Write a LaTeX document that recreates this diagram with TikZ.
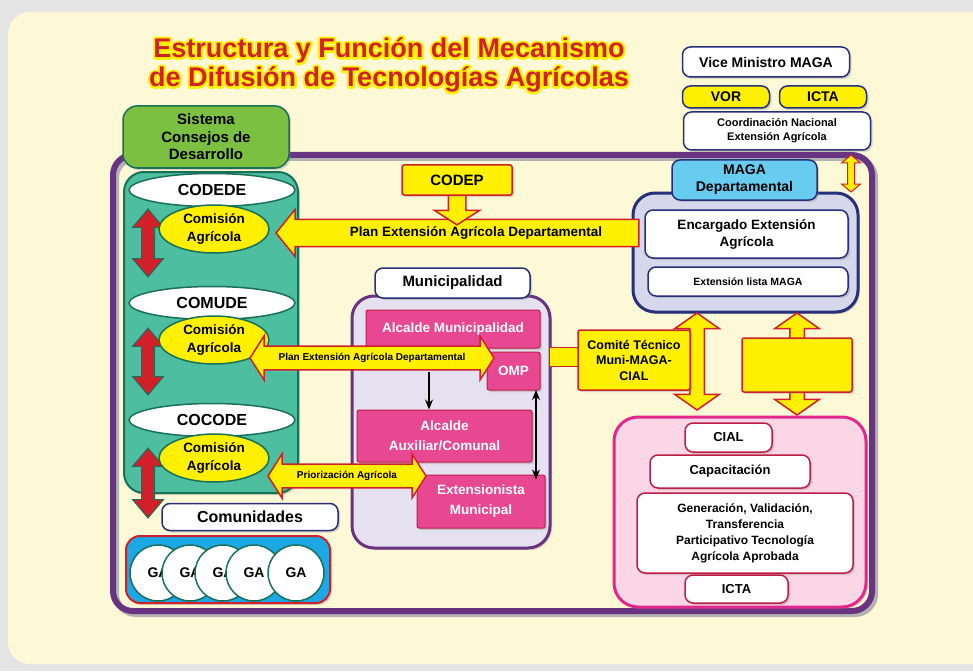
\documentclass[tikz,border=0pt]{standalone}
\usepackage{fontspec}
\setmainfont{Liberation Sans}
\usepackage{tikz}
\usetikzlibrary{arrows.meta,shapes.geometric,shapes.arrows,shadows}

\definecolor{cream}{RGB}{253,248,214}
\definecolor{edge}{RGB}{228,228,228}
\definecolor{frame}{RGB}{104,52,130}
\definecolor{tealbg}{RGB}{78,190,160}
\definecolor{tealdk}{RGB}{24,112,90}
\definecolor{leaf}{RGB}{124,192,66}
\definecolor{ayel}{RGB}{255,240,0}
\definecolor{ared}{RGB}{210,32,42}
\definecolor{pinkbox}{RGB}{232,72,146}
\definecolor{pinkdk}{RGB}{190,30,70}
\definecolor{lav}{RGB}{230,225,240}
\definecolor{mauve}{RGB}{215,215,236}
\definecolor{navy}{RGB}{38,48,122}
\definecolor{sky}{RGB}{104,204,240}
\definecolor{rose}{RGB}{250,214,230}
\definecolor{magen}{RGB}{226,40,140}
\definecolor{gablue}{RGB}{28,168,228}

\newcommand\sz[2]{\bfseries\fontsize{#1}{#2}\selectfont}
\newcommand\outline{\special{pdf:literal direct 2 Tr 4.5 w 1 j}}

\tikzset{
  shd/.style={drop shadow={opacity=.3,shadow xshift=2pt,shadow yshift=-2pt}},
  wbox/.style={draw=navy, line width=1.5pt, fill=white, rounded corners=8pt, align=center, inner sep=1pt, shd},
  ybox/.style={wbox, fill=ayel},
  rwbox/.style={wbox, draw=pinkdk},
  sqbox/.style={draw=ared, line width=1.5pt, fill=ayel, rounded corners=2pt, align=center, inner sep=1pt, shd},
  pbox/.style={draw=pinkdk, line width=1pt, fill=pinkbox, text=white, rounded corners=2pt, align=center, inner sep=1pt, font=\sz{13.5}{20}, shd},
  oval/.style={ellipse, draw=tealdk, line width=1.5pt, fill=white, inner sep=0pt, font=\sz{16}{16}},
  yoval/.style={oval, fill=ayel, align=center, font=\sz{13.5}{18}},
  ga/.style={circle, draw=tealdk, line width=1.5pt, fill=white, minimum size=56pt, inner sep=0pt, font=\sz{14}{14}},
  panel/.style={rounded corners=20pt, line width=3pt, shd},
  yarr/.style={draw=ared, fill=ayel, line width=1.5pt},
  rarr/.style={double arrow, draw=tealdk, fill=ared, line width=1pt, shape border rotate=90,
    double arrow head extend=9pt, double arrow tip angle=80, inner sep=6pt}
}

\begin{document}
\begin{tikzpicture}[x=1pt, y=-1pt]
  % background
  \useasboundingbox (0,0) rectangle (973,671);
  \fill[edge] (0,0) rectangle (973,671);
  \fill[cream, rounded corners=22pt] (8,12) rectangle (995,664);

  % title
  \node[text=ayel, align=center, font=\sz{27}{29}] (titlebg) at (389,65) {\outline Estructura y Función del Mecanismo\\de Difusión de Tecnologías Agrícolas};
  \node[text=ared, align=center, font=\sz{27}{29}] (title) at (389,65) {Estructura y Función del Mecanismo\\de Difusión de Tecnologías Agrícolas};

  % national level
  \node[wbox, minimum width=167pt, minimum height=30pt, font=\sz{14}{16}] (vice) at (766,62) {Vice Ministro MAGA};
  \node[ybox, minimum width=87pt, minimum height=22pt, font=\sz{14}{16}] (vor) at (726,97) {VOR};
  \node[ybox, minimum width=87pt, minimum height=22pt, font=\sz{14}{16}] (icta) at (823,97) {ICTA};
  \node[wbox, minimum width=187pt, minimum height=38pt, font=\sz{11}{14}] (coord) at (777,131) {Coordinación Nacional\\Extensión Agrícola};

  % main frame
  \draw[black!30, line width=6pt, rounded corners=20pt] (116,158) rectangle (875,614);
  \draw[frame, line width=6pt, rounded corners=20pt] (113,155) rectangle (872,611);

  % consejos de desarrollo
  \node[wbox, draw=tealdk, fill=leaf, rounded corners=14pt, minimum width=166pt, minimum height=62pt, font=\sz{15}{17.5}] (sis) at (206,137) {Sistema\\Consejos de\\Desarrollo};
  \node[panel, draw=tealdk, fill=tealbg, line width=2pt, minimum width=174pt, minimum height=321pt] (tp) at (211,332.5) {};

  \node[rarr, minimum height=68pt] (ra1) at (148,243) {};
  \node[rarr, minimum height=67pt] (ra2) at (148,361.5) {};
  \node[rarr, minimum height=70pt] (ra3) at (148,483) {};

  \node[oval, minimum width=166pt, minimum height=33pt] (codede) at (212,190) {CODEDE};
  \node[yoval, minimum width=110pt, minimum height=48pt] (ca1) at (214,229) {Comisión\\Agrícola};
  \node[oval, minimum width=166pt, minimum height=33pt] (comude) at (212,303) {COMUDE};
  \node[yoval, minimum width=110pt, minimum height=48pt] (ca2) at (214,340) {Comisión\\Agrícola};
  \node[oval, minimum width=166pt, minimum height=33pt] (cocode) at (212,420) {COCODE};
  \node[yoval, minimum width=110pt, minimum height=48pt] (ca3) at (214,458) {Comisión\\Agrícola};

  % comunidades
  \node[wbox, minimum width=176pt, minimum height=27pt, font=\sz{16}{18}] (com) at (250,517) {Comunidades};
  \node[panel, draw=ared, fill=gablue, line width=2pt, rounded corners=14pt, minimum width=204pt, minimum height=67pt] (gap) at (228,569.5) {};
  \foreach \x [count=\i] in {158,190,223,254,296}
    \node[ga] (ga\i) at (\x,573) {GA};

  % departmental plan
  \node[panel, draw=navy, fill=mauve, rounded corners=22pt, minimum width=225pt, minimum height=119pt] (magap) at (745.5,252.5) {};
  \node[yarr, single arrow, shape border rotate=180, single arrow head extend=10pt, single arrow tip angle=102,
    minimum height=363pt, inner ysep=6.5pt, font=\sz{13.5}{14}] (plan1) at (463,233) {\hspace*{26pt}Plan Extensión Agrícola Departamental};
  \node[yarr, single arrow, shape border rotate=270, single arrow head extend=14pt, single arrow tip angle=115,
    minimum height=30pt, inner sep=8pt] (cdarr) at (457,207) {};
  \node[sqbox, minimum width=110pt, minimum height=30pt, font=\sz{15}{16}] (codep) at (457,180) {CODEP};
  \node[yarr, double arrow, shape border rotate=90, line width=1pt, double arrow head extend=6pt, double arrow tip angle=100,
    minimum height=37pt, inner sep=3pt] (va0) at (851,173.5) {};
  \node[wbox, fill=sky, minimum width=145pt, minimum height=40pt, font=\sz{14}{17}] (magad) at (744.5,180) {MAGA\\Departamental};
  \node[wbox, minimum width=203pt, minimum height=48pt, font=\sz{13.5}{17}] (enc) at (746.5,234) {Encargado Extensión\\Agrícola};
  \node[wbox, minimum width=200pt, minimum height=29pt, font=\sz{10.5}{12}] (lista) at (748,281.5) {Extensión lista MAGA};

  % municipalidad
  \node[panel, draw=frame, fill=lav, rounded corners=22pt, minimum width=198pt, minimum height=252pt] (munip) at (451,422) {};
  \node[wbox, minimum width=155pt, minimum height=30pt, font=\sz{15}{16}] (munit) at (452.5,283) {Municipalidad};
  \node[pbox, minimum width=174pt, minimum height=38pt] (alc) at (453,329) {Alcalde Municipalidad};
  \node[pbox, minimum width=53pt, minimum height=38pt] (omp) at (513.5,371) {OMP};
  \node[pbox, minimum width=175pt, minimum height=52pt] (aux) at (444.5,436) {Alcalde\\Auxiliar/Comunal};
  \node[pbox, minimum width=128pt, minimum height=53pt] (ext) at (481,501.5) {Extensionista\\Municipal};

  \node[yarr, double arrow, double arrow head extend=10pt, double arrow tip angle=115,
    minimum height=244pt, inner ysep=6.5pt, inner xsep=2pt, font=\sz{10}{11}] (plan2) at (372,358) {Plan Extensión Agrícola Departamental};
  \node[yarr, double arrow, double arrow head extend=10pt, double arrow tip angle=115,
    minimum height=158pt, inner ysep=6.5pt, inner xsep=2pt, font=\sz{10}{11}] (prio) at (347,476) {Priorización Agrícola};

  \coordinate (d1) at (429,372);
  \coordinate (d2) at (536,390);
  \draw[line width=1.2pt, -{Stealth[length=10pt,width=8pt]}] (d1) -- (d1 |- aux.north);
  \draw[line width=1.2pt, {Stealth[length=10pt,width=8pt]}-{Stealth[length=10pt,width=8pt]}] (d2) -- ([yshift=-5pt]d2 |- ext.north);

  % comite tecnico
  \path[fill=ayel, draw=ared, line width=1pt] (549,347) rectangle (579,366);
  \node[yarr, double arrow, shape border rotate=90, double arrow head extend=15pt, double arrow tip angle=110,
    minimum height=97pt, inner sep=6.5pt] (va1) at (697,361.5) {};
  \node[yarr, double arrow, shape border rotate=90, double arrow head extend=15pt, double arrow tip angle=110,
    minimum height=102pt, inner sep=6.5pt] (va2) at (797,364) {};
  \node[sqbox, minimum width=112pt, minimum height=60pt, font=\sz{12.5}{15.5}] (comite) at (634,360) {Comité Técnico\\Muni-MAGA-\\CIAL};
  \node[sqbox, minimum width=110pt, minimum height=54pt] (yb) at (797,365) {};

  % cial
  \node[panel, draw=magen, fill=rose, rounded corners=24pt, minimum width=252pt, minimum height=190pt] (cialp) at (740,512) {};
  \node[rwbox, minimum width=87pt, minimum height=29pt, font=\sz{13}{15}] (cial) at (728.5,437.5) {CIAL};
  \node[rwbox, minimum width=160pt, minimum height=33pt, font=\sz{13}{15}] (cap) at (730,471.5) {Capacitación};
  \node[rwbox, minimum width=216pt, minimum height=80pt, font=\sz{12}{16}] (gen) at (745,533) {Generación, Validación,\\Transferencia\\Participativo Tecnología\\Agrícola Aprobada};
  \node[rwbox, minimum width=103pt, minimum height=28pt, font=\sz{13}{15}] (icta2) at (736.5,589) {ICTA};
\end{tikzpicture}
\end{document}
